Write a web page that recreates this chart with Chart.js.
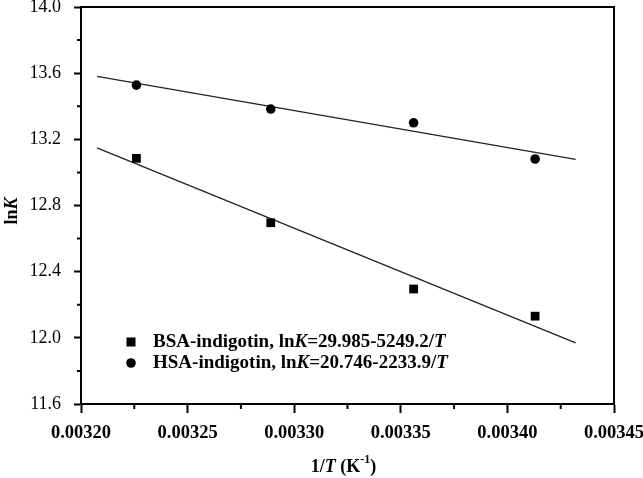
<!DOCTYPE html>
<html>
<head>
<meta charset="utf-8">
<script src="https://cdn.jsdelivr.net/npm/chart.js@4"></script>
<style>
  body { margin: 0; background: #fff; }
  #wrap { width: 643px; height: 478px; }
</style>
</head>
<body>
<div id="wrap"><canvas id="lnkChart" width="643" height="478"></canvas></div>
<script>
// measured points (1/T vs lnK)
const invT = [0.003226, 0.003289, 0.003356, 0.003413];
const bsaLnK = [13.085, 12.696, 12.295, 12.131];
const hsaLnK = [13.528, 13.383, 13.300, 13.081];

// ends of the fitted lines
const fitX = [0.0032075, 0.003432];
const bsaFit = [13.148, 11.970];
const hsaFit = [13.580, 13.079];

const SERIF = '"Liberation Serif", "Times New Roman", serif';

function pts(xs, ys) {
    return xs.map((v, i) => ({ x: v, y: ys[i] }));
}

// draw a row of text pieces with different styles
function richText(ctx, parts, x, y, align) {
    let total = 0;
    parts.forEach(p => { ctx.font = p.font; total += ctx.measureText(p.t).width; });
    let cx = align === 'center' ? x - total / 2 : x;
    ctx.textBaseline = 'middle';
    ctx.textAlign = 'left';
    parts.forEach(p => {
        ctx.font = p.font;
        ctx.fillText(p.t, cx, y + (p.dy || 0));
        cx += ctx.measureText(p.t).width;
    });
}

const B = 'bold 18px ' + SERIF;
const BI = 'italic bold 18px ' + SERIF;
const LB = 'bold 19px ' + SERIF;
const LBI = 'italic bold 19px ' + SERIF;

const decor = {
    id: 'decor',
    afterDraw(chart) {
        const { ctx, chartArea: a, scales: { x, y } } = chart;
        ctx.save();
        ctx.strokeStyle = '#000';
        ctx.fillStyle = '#000';
        ctx.lineWidth = 2;

        // top and right frame
        ctx.beginPath();
        ctx.moveTo(a.left - 1, a.top);
        ctx.lineTo(a.right, a.top);
        ctx.lineTo(a.right, a.bottom + 1);
        ctx.stroke();

        // minor ticks halfway between the major ones
        ctx.beginPath();
        for (let i = 0; i < x.ticks.length - 1; i++) {
            const px = (x.getPixelForValue(x.ticks[i].value) + x.getPixelForValue(x.ticks[i + 1].value)) / 2;
            ctx.moveTo(px, a.bottom);
            ctx.lineTo(px, a.bottom + 5);
        }
        for (let i = 0; i < y.ticks.length - 1; i++) {
            const py = (y.getPixelForValue(y.ticks[i].value) + y.getPixelForValue(y.ticks[i + 1].value)) / 2;
            ctx.moveTo(a.left, py);
            ctx.lineTo(a.left - 4, py);
        }
        ctx.stroke();

        // axis titles
        richText(ctx, [
            { t: '1/', font: B },
            { t: 'T', font: BI },
            { t: ' (K', font: B },
            { t: '-1', font: 'bold 12px ' + SERIF, dy: -7 },
            { t: ')', font: B }
        ], (a.left + a.right) / 2 - 4, 467, 'center');

        ctx.save();
        ctx.translate(12, 211);
        ctx.rotate(-Math.PI / 2);
        richText(ctx, [{ t: 'ln', font: B }, { t: 'K', font: BI }], 0, 0, 'center');
        ctx.restore();

        // legend
        const lx = a.left + 50, ly = a.top + 335;
        ctx.fillRect(lx - 4.5, ly - 4.5, 9, 9);
        ctx.beginPath();
        ctx.arc(lx, ly + 21, 4.8, 0, Math.PI * 2);
        ctx.fill();
        richText(ctx, [
            { t: 'BSA-indigotin, ln', font: LB },
            { t: 'K', font: LBI },
            { t: '=29.985-5249.2/', font: LB },
            { t: 'T', font: LBI }
        ], lx + 22, ly, 'left');
        richText(ctx, [
            { t: 'HSA-indigotin, ln', font: LB },
            { t: 'K', font: LBI },
            { t: '=20.746-2233.9/', font: LB },
            { t: 'T', font: LBI }
        ], lx + 22, ly + 21, 'left');
        ctx.restore();
    }
};

const ctxLnk = document.getElementById('lnkChart').getContext('2d');
const lnkChart = new Chart(ctxLnk, {
    type: 'scatter',
    data: {
        datasets: [
            {
                label: 'BSA-indigotin',
                data: pts(invT, bsaLnK),
                pointStyle: 'rect',
                pointRadius: 6.2,
                backgroundColor: '#000',
                borderColor: '#000',
                borderWidth: 0
            },
            {
                label: 'HSA-indigotin',
                data: pts(invT, hsaLnK),
                pointStyle: 'circle',
                pointRadius: 4.8,
                backgroundColor: '#000',
                borderColor: '#000',
                borderWidth: 0
            },
            {
                label: 'BSA fit',
                data: pts(fitX, bsaFit),
                showLine: true,
                pointRadius: 0,
                borderColor: '#222',
                borderWidth: 1.3
            },
            {
                label: 'HSA fit',
                data: pts(fitX, hsaFit),
                showLine: true,
                pointRadius: 0,
                borderColor: '#222',
                borderWidth: 1.3
            }
        ]
    },
    options: {
        responsive: false,
        animation: false,
        devicePixelRatio: 1,
        layout: { padding: { left: 0, top: 7, right: 29, bottom: 0 } },
        scales: {
            x: {
                type: 'linear',
                min: 0.0032,
                max: 0.00345,
                ticks: {
                    stepSize: 0.00005,
                    color: '#000',
                    padding: 9,
                    maxRotation: 0,
                    font: { family: SERIF, size: 18.5, weight: 'bold' },
                    callback: v => v.toFixed(5)
                },
                grid: { drawOnChartArea: false, tickLength: 9, tickWidth: 2, tickColor: '#000' },
                border: { display: true, color: '#000', width: 2 },
                afterFit: s => { s.height = 74; s.paddingLeft = 0; s.paddingRight = 0; }
            },
            y: {
                min: 11.6,
                max: 14.0,
                ticks: {
                    stepSize: 0.4,
                    color: '#000',
                    padding: 13,
                    font: { family: SERIF, size: 18 },
                    callback: v => v.toFixed(1)
                },
                grid: { drawOnChartArea: false, tickLength: 7, tickWidth: 2, tickColor: '#000' },
                border: { display: true, color: '#000', width: 2 },
                afterFit: s => { s.width = 81; s.paddingTop = 0; s.paddingBottom = 0; }
            }
        },
        plugins: {
            legend: { display: false },
            tooltip: { enabled: false }
        }
    },
    plugins: [decor]
});
</script>
</body>
</html>
